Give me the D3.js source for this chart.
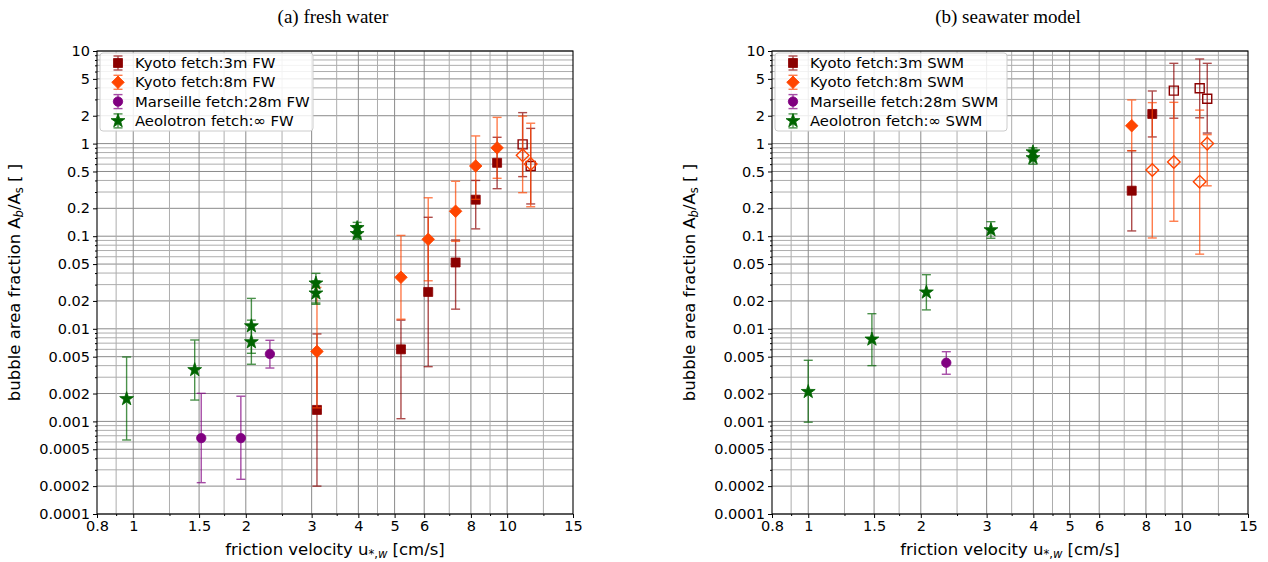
<!DOCTYPE html>
<html>
<head>
<meta charset="utf-8">
<script src="https://cdn.jsdelivr.net/npm/d3@7"></script>
<style>
  body { margin: 0; background: #fff; }
  svg { display: block; }
  text { font-family: "DejaVu Sans", sans-serif; fill: #000; }
</style>
</head>
<body>
<svg id="chart" width="1268" height="562"></svg>
<script>
// ---- axis ticks ----
const xTickValues = [0.8, 1, 1.5, 2, 3, 4, 5, 6, 8, 10, 15];
const xGridValues = [0.9, 1, 1.25, 1.5, 1.75, 2, 2.5, 3, 3.5, 4, 4.5, 5, 6, 7, 8, 9, 10, 12.5];
const yTickValues = [10, 5, 2, 1, 0.5, 0.2, 0.1, 0.05, 0.02, 0.01, 0.005, 0.002, 0.001, 0.0005, 0.0002, 0.0001];
const yTickLabels = ["10", "5", "2", "1", "0.5", "0.2", "0.1", "0.05", "0.02", "0.01", "0.005", "0.002", "0.001", "0.0005", "0.0002", "0.0001"];

// ---- series styling ----
const seriesNames = ["Kyoto fetch:3m", "Kyoto fetch:8m", "Marseille fetch:28m", "Aeolotron fetch:\u221e"];
const seriesColors = ["#8b0000", "#ff4500", "#800080", "#006400"];
const seriesMarkers = ["square", "diamond", "circle", "star"];

// ---- fresh water (FW) ----
const fwKyoto3U    = [3.1, 5.2, 6.15, 7.28, 8.24, 9.4, 11.0, 11.56];
const fwKyoto3Ab   = [0.00133, 0.0060, 0.025, 0.052, 0.248, 0.62, 0.98, 0.573];
const fwKyoto3Lo   = [0.0002, 0.00107, 0.0039, 0.0163, 0.12, 0.326, 0.44, 0.223];
const fwKyoto3Hi   = [0.0088, 0.0124, 0.16, 0.091, 0.40, 1.17, 2.16, 1.46];
const fwKyoto3Open = [0, 0, 0, 0, 0, 0, 1, 1];

const fwKyoto8U    = [3.1, 5.2, 6.15, 7.28, 8.24, 9.4, 11.0, 11.56];
const fwKyoto8Ab   = [0.0057, 0.036, 0.0925, 0.186, 0.573, 0.90, 0.747, 0.602];
const fwKyoto8Lo   = [0.0014, 0.0127, 0.033, 0.088, 0.25, 0.422, 0.295, 0.208];
const fwKyoto8Hi   = [0.028, 0.102, 0.26, 0.392, 1.21, 1.92, 1.98, 1.66];
const fwKyoto8Open = [0, 0, 0, 0, 0, 0, 1, 1];

const fwMarseilleU    = [1.52, 1.94, 2.32];
const fwMarseilleAb   = [0.00066, 0.00066, 0.00535];
const fwMarseilleLo   = [0.000218, 0.000237, 0.00377];
const fwMarseilleHi   = [0.00201, 0.00187, 0.00751];
const fwMarseilleOpen = [0, 0, 0];

const fwAeolotronU    = [0.96, 1.46, 2.07, 2.07, 3.08, 3.08, 3.97, 3.97];
const fwAeolotronAb   = [0.00175, 0.0036, 0.0107, 0.0072, 0.031, 0.0242, 0.123, 0.106];
const fwAeolotronLo   = [0.00063, 0.0017, 0.00544, 0.00414, 0.019, 0.0184, 0.098, 0.093];
const fwAeolotronHi   = [0.00496, 0.00757, 0.0213, 0.0124, 0.0397, 0.033, 0.141, 0.13];
const fwAeolotronOpen = [0, 0, 0, 0, 0, 0, 0, 0];

// ---- seawater model (SWM) ----
const swmKyoto3U    = [7.33, 8.32, 9.5, 11.14, 11.67];
const swmKyoto3Ab   = [0.31, 2.09, 3.73, 3.96, 3.05];
const swmKyoto3Lo   = [0.114, 1.18, 1.88, 1.9, 1.3];
const swmKyoto3Hi   = [0.838, 3.7, 7.36, 8.2, 7.36];
const swmKyoto3Open = [0, 0, 1, 1, 1];

const swmKyoto8U    = [7.33, 8.32, 9.5, 11.14, 11.67];
const swmKyoto8Ab   = [1.56, 0.519, 0.633, 0.388, 1.0];
const swmKyoto8Lo   = [0.838, 0.0957, 0.145, 0.064, 0.35];
const swmKyoto8Hi   = [2.96, 2.77, 2.79, 2.3, 1.25];
const swmKyoto8Open = [0, 1, 1, 1, 1];

const swmMarseilleU    = [2.34];
const swmMarseilleAb   = [0.0043];
const swmMarseilleLo   = [0.00323];
const swmMarseilleHi   = [0.00566];
const swmMarseilleOpen = [0];

const swmAeolotronU    = [1.0, 1.48, 2.07, 3.08, 3.99, 3.99];
const swmAeolotronAb   = [0.00209, 0.0077, 0.0248, 0.1167, 0.81, 0.70];
const swmAeolotronLo   = [0.00098, 0.0040, 0.016, 0.095, 0.68, 0.60];
const swmAeolotronHi   = [0.00457, 0.01456, 0.0384, 0.1435, 0.90, 0.82];
const swmAeolotronOpen = [0, 0, 0, 0, 0, 0];

function rows(u, ab, lo, hi, open) {
  return u.map((v, i) => ({ u: v, ab: ab[i], lo: lo[i], hi: hi[i], open: !!open[i] }));
}

const fwSeries = [
  rows(fwKyoto3U, fwKyoto3Ab, fwKyoto3Lo, fwKyoto3Hi, fwKyoto3Open),
  rows(fwKyoto8U, fwKyoto8Ab, fwKyoto8Lo, fwKyoto8Hi, fwKyoto8Open),
  rows(fwMarseilleU, fwMarseilleAb, fwMarseilleLo, fwMarseilleHi, fwMarseilleOpen),
  rows(fwAeolotronU, fwAeolotronAb, fwAeolotronLo, fwAeolotronHi, fwAeolotronOpen)
];
const swmSeries = [
  rows(swmKyoto3U, swmKyoto3Ab, swmKyoto3Lo, swmKyoto3Hi, swmKyoto3Open),
  rows(swmKyoto8U, swmKyoto8Ab, swmKyoto8Lo, swmKyoto8Hi, swmKyoto8Open),
  rows(swmMarseilleU, swmMarseilleAb, swmMarseilleLo, swmMarseilleHi, swmMarseilleOpen),
  rows(swmAeolotronU, swmAeolotronAb, swmAeolotronLo, swmAeolotronHi, swmAeolotronOpen)
];

const panels = [
  { left: 97,  title: "(a) fresh water",    tag: "FW",  series: fwSeries },
  { left: 772, title: "(b) seawater model", tag: "SWM", series: swmSeries }
];

// ---- layout ----
const plotTop = 51, plotW = 476, plotH = 463;
const svg = d3.select("#chart");

function starPath(rOut, rIn) {
  const pts = [];
  for (let i = 0; i < 10; i++) {
    const a = -Math.PI / 2 + i * Math.PI / 5;
    const r = i % 2 === 0 ? rOut : rIn;
    pts.push([r * Math.cos(a), r * Math.sin(a)]);
  }
  return "M" + pts.map(p => p[0].toFixed(2) + "," + p[1].toFixed(2)).join("L") + "Z";
}
function markerPath(type) {
  switch (type) {
    case "square":  return d3.symbol(d3.symbolSquare, 81)();
    case "circle":  return d3.symbol(d3.symbolCircle, Math.PI * 4.7 * 4.7)();
    case "diamond": return "M0,-6.3L6.3,0L0,6.3L-6.3,0Z";
    case "star":    return starPath(7.3, 2.9);
  }
}

function drawErrorBar(g, cx, y1, y2, color) {
  const eb = g.append("g").attr("stroke", color).attr("stroke-width", 1.4).attr("opacity", 0.7);
  eb.append("line").attr("x1", cx).attr("x2", cx).attr("y1", y1).attr("y2", y2);
  eb.append("line").attr("x1", cx - 4.5).attr("x2", cx + 4.5).attr("y1", y1).attr("y2", y1);
  eb.append("line").attr("x1", cx - 4.5).attr("x2", cx + 4.5).attr("y1", y2).attr("y2", y2);
}

panels.forEach(p => {
  const x = d3.scaleLog().domain([0.8, 15]).range([0, plotW]);
  const y = d3.scaleLog().domain([1e-4, 10]).range([plotH, 0]);
  const g = svg.append("g").attr("transform", `translate(${p.left},${plotTop})`);

  // grid: every 1..9 x decade horizontally, plus the velocity grid vertically
  const yGrid = [];
  for (let e = -4; e <= 0; e++) for (let k = 1; k <= 9; k++) yGrid.push(k * Math.pow(10, e));
  yGrid.push(10);
  const grid = g.append("g").attr("fill", "none");
  grid.selectAll("line.h").data(yGrid).join("line")
    .attr("x1", 0).attr("x2", plotW)
    .attr("y1", d => y(d)).attr("y2", d => y(d))
    .attr("stroke", (d, i) => (i % 9 === 0 || i % 9 === 1 || i % 9 === 4) ? "#8a8a8a" : "#adadad")
    .attr("stroke-width", 1);
  grid.selectAll("line.v").data(xGridValues).join("line")
    .attr("y1", 0).attr("y2", plotH)
    .attr("x1", d => x(d)).attr("x2", d => x(d))
    .attr("stroke", d => xTickValues.includes(d) ? "#8a8a8a" : "#adadad")
    .attr("stroke-width", 1);

  // axes
  const xAxis = d3.axisBottom(x).tickValues(xTickValues).tickFormat(d => String(d)).tickSize(4).tickPadding(3);
  const xg = g.append("g").attr("transform", `translate(0,${plotH})`).call(xAxis);
  const xMinor = xGridValues.filter(v => !xTickValues.includes(v));
  g.append("g").attr("transform", `translate(0,${plotH})`)
    .call(d3.axisBottom(x).tickValues(xMinor).tickFormat("").tickSize(2))
    .call(s => s.select(".domain").remove());

  const yAxis = d3.axisLeft(y).tickValues(yTickValues).tickFormat((d, i) => yTickLabels[i]).tickSize(4).tickPadding(3);
  const yg = g.append("g").call(yAxis);
  const yMinor = yGrid.filter(v => !yTickValues.some(t => Math.abs(t - v) / t < 1e-6));
  g.append("g").call(d3.axisLeft(y).tickValues(yMinor).tickFormat("").tickSize(2))
    .call(s => s.select(".domain").remove());

  [xg, yg].forEach(a => {
    a.selectAll("text").attr("font-size", 14.5).attr("font-family", "DejaVu Sans");
    a.select(".domain").remove();
  });
  svg.selectAll(".tick line").attr("stroke", "#000");

  // data
  p.series.forEach((rowsArr, si) => {
    const color = seriesColors[si];
    const sg = g.append("g");
    rowsArr.forEach(d => drawErrorBar(sg, x(d.u), y(d.hi), y(d.lo), color));
    sg.selectAll("path.m").data(rowsArr).join("path")
      .attr("d", markerPath(seriesMarkers[si]))
      .attr("transform", d => `translate(${x(d.u)},${y(d.ab)})`)
      .attr("fill", d => d.open ? "none" : color)
      .attr("stroke", color)
      .attr("stroke-width", d => d.open ? 1.4 : 0.8);
  });

  // frame
  g.append("rect").attr("width", plotW).attr("height", plotH)
    .attr("fill", "none").attr("stroke", "#000").attr("stroke-width", 1.1);

  // legend
  const lg = g.append("g").attr("transform", "translate(3,2)");
  const lgW = p.tag === "FW" ? 213 : 232;
  lg.append("rect").attr("width", lgW).attr("height", 78).attr("rx", 3)
    .attr("fill", "#fff").attr("fill-opacity", 0.85).attr("stroke", "#cccccc");
  seriesNames.forEach((name, i) => {
    const ry = 10 + i * 19.3;
    drawErrorBar(lg, 18, ry - 7, ry + 7, seriesColors[i]);
    lg.append("path").attr("d", markerPath(seriesMarkers[i]))
      .attr("transform", `translate(18,${ry})`)
      .attr("fill", seriesColors[i]).attr("stroke", seriesColors[i]).attr("stroke-width", 0.8);
    lg.append("text").attr("x", 35).attr("y", ry + 5).attr("font-size", 14.8)
      .text(`${name} ${p.tag}`);
  });

  // title
  svg.append("text").attr("x", p.left + plotW / 2 - 2).attr("y", 23)
    .attr("text-anchor", "middle")
    .style("font-family", "'Liberation Serif', serif").attr("font-size", 19)
    .text(p.title);

  // x label
  const xl = svg.append("text").attr("x", p.left + plotW / 2).attr("y", 555)
    .attr("text-anchor", "middle").attr("font-size", 16.5);
  xl.append("tspan").text("friction velocity u");
  xl.append("tspan").attr("font-size", 11.5).attr("dy", 3).text("*,");
  xl.append("tspan").attr("font-size", 11.5).attr("font-style", "italic").text("w");
  xl.append("tspan").attr("dy", -3).text(" [cm/s]");

  // y label
  const yl = svg.append("text")
    .attr("transform", `translate(${p.left - 77},${plotTop + plotH / 2}) rotate(-90)`)
    .attr("text-anchor", "middle").attr("font-size", 16.5);
  yl.append("tspan").text("bubble area fraction A");
  yl.append("tspan").attr("font-size", 11.5).attr("font-style", "italic").attr("dy", 3).text("b");
  yl.append("tspan").attr("dy", -3).text("/A");
  yl.append("tspan").attr("font-size", 11.5).attr("dy", 3).text("s");
  yl.append("tspan").attr("dy", -3).text(" [ ]");
});
</script>
</body>
</html>
